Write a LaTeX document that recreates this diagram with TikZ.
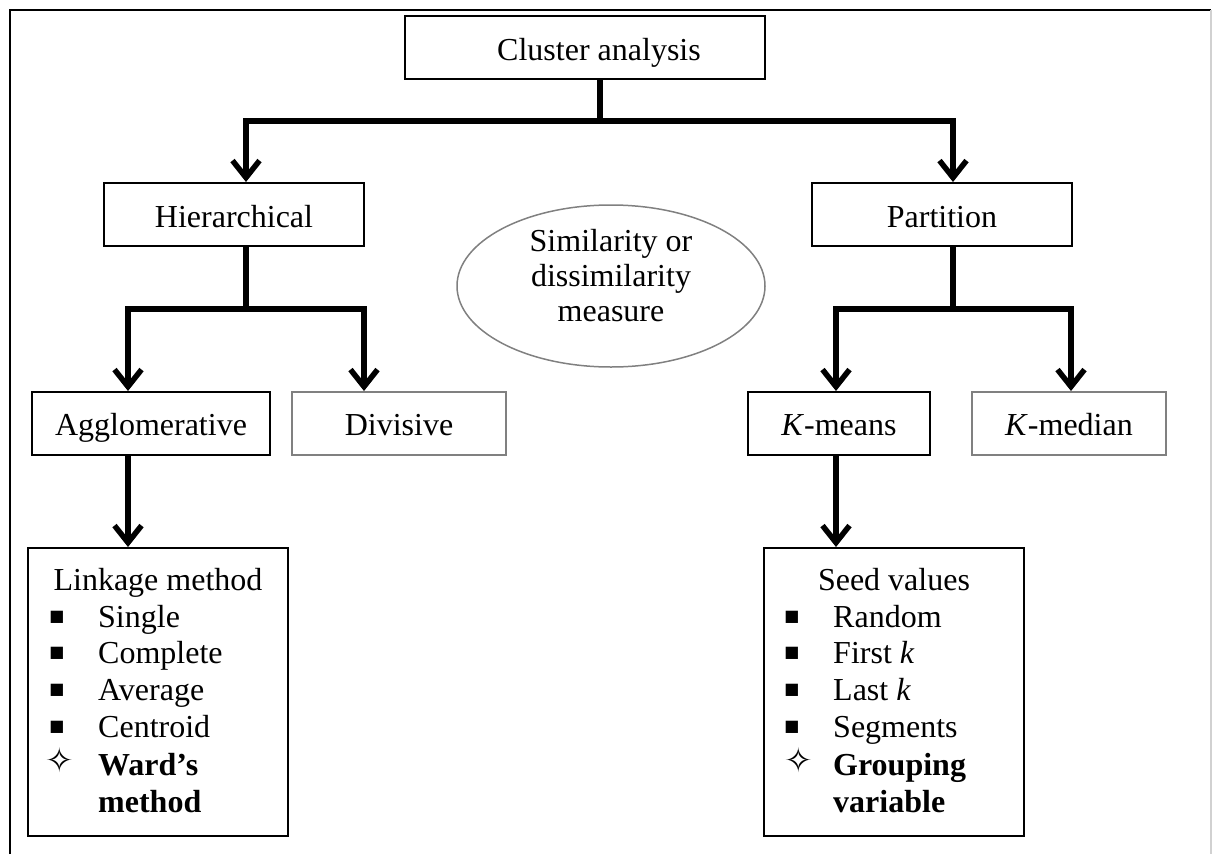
\documentclass[tikz,border=0pt]{standalone}
\usepackage{fontspec}
\setmainfont{Liberation Serif}
\newfontfamily\symfont{DejaVu Sans}
\usetikzlibrary{arrows.meta,shapes.geometric}

\begin{document}
\begin{tikzpicture}[x=1pt,y=-1pt,
  >={Straight Barb[length=17pt,width=27pt]},
  box/.style={draw=black, line width=2pt, inner sep=0pt, minimum height=63pt},
  greybox/.style={box, draw=black!50},
  listbox/.style={draw=black, line width=2pt, inner sep=0pt, minimum width=260pt, minimum height=288pt},
  oval/.style={ellipse, draw=black!50, line width=1.5pt, inner sep=0pt, minimum width=308pt, minimum height=162pt},
  conn/.style={line width=5.5pt, draw=black},
  txt/.style={inner sep=0pt, font=\fontsize{32}{37}\selectfont},
  bold/.style={txt, font=\fontsize{32}{37}\selectfont\bfseries},
  sqbullet/.style={inner sep=0pt, font=\fontsize{16}{16}\symfont},
  starbullet/.style={inner sep=0pt, font=\fontsize{34}{34}\symfont}]

\useasboundingbox (0,0) rectangle (1212,854);

% outer frame
\draw[line width=2pt] (10,854) -- (10,10) -- (1211,10);
\draw[line width=1.5pt, black!18] (1211,10) -- (1211,854);

% boxes
\node[box, minimum width=360pt] (ca) at (585,47.5) {};
\node[box, minimum width=260pt] (hier) at (234,214.5) {};
\node[box, minimum width=260pt] (part) at (942,214.5) {};
\node[box, minimum width=238pt] (aggl) at (151,423.5) {};
\node[greybox, minimum width=214pt] (div) at (399,423.5) {};
\node[box, minimum width=182pt] (kmeans) at (839,423.5) {};
\node[greybox, minimum width=194pt] (kmedian) at (1069,423.5) {};
\node[listbox] (link) at (158,692) {};
\node[listbox] (seed) at (894,692) {};
\node[oval] (sim) at (611,286) {};

% box texts
\node[txt, anchor=base] (ca-t) at (599,60) {Cluster analysis};
\node[txt, anchor=base] (hier-t) at (234,227) {Hierarchical};
\node[txt, anchor=base] (part-t) at (942,227) {Partition};
\node[txt, anchor=base] (aggl-t) at (151,435) {Agglomerative};
\node[txt, anchor=base] (div-t) at (399,435) {Divisive};
\node[txt, anchor=base] (kmeans-t) at (839,435) {\textit{K}-means};
\node[txt, anchor=base] (kmedian-t) at (1069,435) {\textit{K}-median};
\node[txt, anchor=base] (sim-t1) at (611,251) {Similarity or};
\node[txt, anchor=base] (sim-t2) at (611,286) {dissimilarity};
\node[txt, anchor=base] (sim-t3) at (611,321) {measure};

% linkage list
\node[txt, anchor=base] (link-t) at (158,590) {Linkage method};
\foreach \y/\w [count=\i] in {627/Single, 663/Complete, 700/Average, 737/Centroid}{
  \node[sqbullet] (link-b\i) at (57,\y-10) {■};
  \node[txt, anchor=base west] (link-i\i) at (98,\y) {\w};
}
\node[starbullet] (link-s) at (60,760) {✧};
\node[bold, anchor=base west] (link-w1) at (98,775) {Ward’s};
\node[bold, anchor=base west] (link-w2) at (98,812) {method};

% seed list
\node[txt, anchor=base] (seed-t) at (894,590) {Seed values};
\foreach \y/\w [count=\i] in {627/Random, 663/First \textit{k}, 700/Last \textit{k}, 737/Segments}{
  \node[sqbullet] (seed-b\i) at (792,\y-10) {■};
  \node[txt, anchor=base west] (seed-i\i) at (833,\y) {\w};
}
\node[starbullet] (seed-s) at (799,760) {✧};
\node[bold, anchor=base west] (seed-g1) at (833,775) {Grouping};
\node[bold, anchor=base west] (seed-g2) at (833,812) {variable};

% connectors
\coordinate (cajoin) at (600,121);
\coordinate (hjoin) at (246,309);
\coordinate (pjoin) at (953,309);
\draw[conn] ([xshift=15pt]ca.south) -- (cajoin);
\draw[conn, <->] ([xshift=12pt]hier.north) |- (cajoin) -| ([xshift=11pt]part.north);
\draw[conn] ([xshift=12pt]hier.south) -- (hjoin);
\draw[conn, <->] ([xshift=-23pt]aggl.north) |- (hjoin) -| ([xshift=-35pt]div.north);
\draw[conn] ([xshift=11pt]part.south) -- (pjoin);
\draw[conn, <->] ([xshift=-3pt]kmeans.north) |- (pjoin) -| ([xshift=2pt]kmedian.north);
\draw[conn, ->] ([xshift=-23pt]aggl.south) -- ([xshift=-30pt]link.north);
\draw[conn, ->] ([xshift=-3pt]kmeans.south) -- ([xshift=-58pt]seed.north);

\end{tikzpicture}
\end{document}
